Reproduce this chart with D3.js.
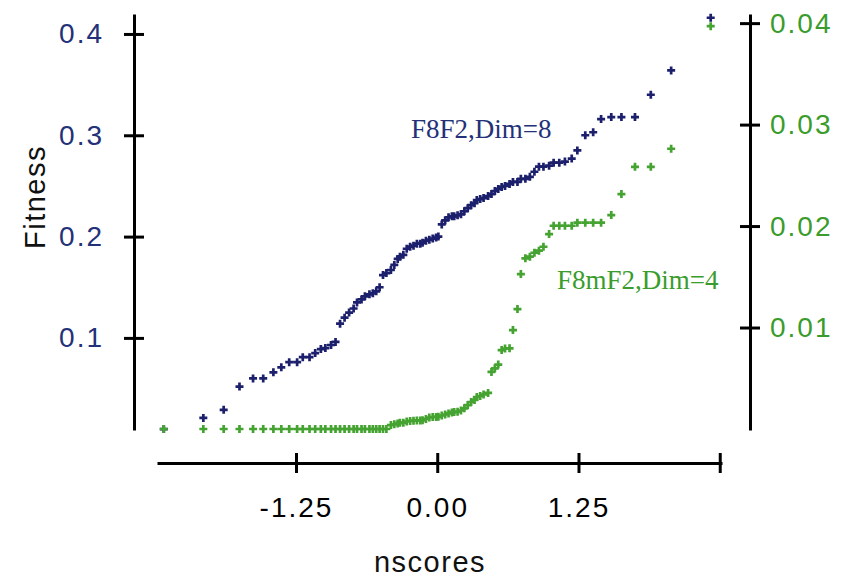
<!DOCTYPE html>
<html>
<head>
<meta charset="utf-8">
<script src="https://cdn.jsdelivr.net/npm/d3@7"></script>
<style>
  body { margin: 0; background: #fff; }
  svg { display: block; }
  .tick text { font-family: "Liberation Sans", Arial, sans-serif; }
</style>
</head>
<body>
<div id="chart"></div>
<script>
// normal scores (shared by both series)
const nscores = [
  -2.42, -2.07, -1.89, -1.75, -1.63, -1.54, -1.45, -1.38, -1.31, -1.24,
  -1.19, -1.13, -1.08, -1.03, -0.99, -0.94, -0.90, -0.86, -0.82, -0.78,
  -0.74, -0.71, -0.67, -0.64, -0.60, -0.57, -0.54, -0.51, -0.48, -0.45,
  -0.41, -0.38, -0.35, -0.33, -0.30, -0.27, -0.24, -0.21, -0.18, -0.15,
  -0.13, -0.10, -0.07, -0.04, -0.01, 0.01, 0.04, 0.07, 0.10, 0.13,
  0.15, 0.18, 0.21, 0.24, 0.27, 0.30, 0.33, 0.35, 0.38, 0.41,
  0.45, 0.48, 0.51, 0.54, 0.57, 0.60, 0.64, 0.67, 0.71, 0.74,
  0.78, 0.82, 0.86, 0.90, 0.94, 0.99, 1.03, 1.08, 1.13, 1.19,
  1.24, 1.31, 1.38, 1.45, 1.54, 1.63, 1.75, 1.89, 2.07, 2.42
]

// F8F2, Dim=8 (left axis)
const fitnessF8F2 = [
  0.010, 0.021, 0.029, 0.052, 0.060, 0.060, 0.066, 0.071, 0.076, 0.076,
  0.081, 0.081, 0.085, 0.089, 0.090, 0.093, 0.096, 0.114, 0.120, 0.125,
  0.129, 0.135, 0.138, 0.141, 0.143, 0.144, 0.146, 0.150, 0.162, 0.164,
  0.167, 0.172, 0.178, 0.180, 0.182, 0.188, 0.190, 0.191, 0.193, 0.193,
  0.194, 0.196, 0.197, 0.198, 0.199, 0.200, 0.212, 0.216, 0.219, 0.220,
  0.220, 0.221, 0.222, 0.225, 0.228, 0.231, 0.233, 0.236, 0.237, 0.238,
  0.240, 0.242, 0.245, 0.247, 0.249, 0.250, 0.252, 0.254, 0.254, 0.257,
  0.257, 0.259, 0.264, 0.269, 0.269, 0.270, 0.273, 0.273, 0.274, 0.277,
  0.285, 0.300, 0.303, 0.316, 0.318, 0.318, 0.318, 0.340, 0.364, 0.416
]

// F8mF2, Dim=4 (right axis)
const fitnessF8mF2 = [
  0, 0, 0, 0, 0, 0, 0, 0, 0, 0,
  0, 0, 0, 0, 0, 0, 0, 0, 0, 0,
  0, 0, 0, 0, 0, 0, 0, 0, 0, 0,
  0.00039, 0.00046, 0.00054, 0.00062, 0.00062, 0.00074, 0.00079, 0.00082, 0.00084, 0.00084,
  0.00086, 0.00099, 0.00113, 0.00118, 0.00118, 0.00121, 0.00133, 0.00143, 0.00153, 0.00163,
  0.00168, 0.00170, 0.00182, 0.00204, 0.00236, 0.00266, 0.00286, 0.00315, 0.00325, 0.00340,
  0.00355, 0.00562, 0.00598, 0.00635, 0.00778, 0.00793, 0.00795, 0.00975, 0.01182, 0.01527,
  0.01682, 0.01698, 0.01737, 0.01757, 0.01796, 0.01921, 0.02003, 0.02003, 0.02003, 0.02003,
  0.02033, 0.02033, 0.02033, 0.02033, 0.02108, 0.02315, 0.02584, 0.02584, 0.02762, 0.03970
]

const xTicks = [-1.25, 0, 1.25, 2.5]
const leftTicks = [0.1, 0.2, 0.3, 0.4]
const rightTicks = [0.01, 0.02, 0.03, 0.04]

const navy = '#1c206c'
const navyText = '#243178'
const green = '#45a332'
const greenText = '#3a9c2c'
const sans = '"Liberation Sans", Arial, sans-serif'

const width = 846, height = 577

const svg = d3.select('#chart')
  .append('svg')
  .attr('width', width)
  .attr('height', height)

const x = d3.scaleLinear().domain([-2.48, 2.52]).range([157, 722])
const yL = d3.scaleLinear().domain([0.0091, 0.4197]).range([430, 14])
const yR = d3.scaleLinear().domain([-0.0001, 0.0409]).range([430, 14])

// axes (plain hyphen for negatives, like the original)
const xAxis = svg.append('g')
  .attr('transform', 'translate(0,463)')
  .call(d3.axisBottom(x)
    .tickValues(xTicks)
    .tickSizeOuter(0)
    .tickSizeInner(10)
    .tickPadding(24)
    .tickFormat(d => d === 2.5 ? '' : d.toFixed(2)))

xAxis.selectAll('.tick line').attr('y1', -10)

const leftAxis = svg.append('g')
  .attr('transform', 'translate(134,0)')
  .call(d3.axisLeft(yL)
    .tickValues(leftTicks)
    .tickSizeOuter(0)
    .tickSizeInner(10)
    .tickPadding(20)
    .tickFormat(d => d.toFixed(1)))

leftAxis.selectAll('.tick line').attr('x1', 10)
leftAxis.selectAll('.tick text').attr('fill', navyText)

const rightAxis = svg.append('g')
  .attr('transform', 'translate(750,0)')
  .call(d3.axisRight(yR)
    .tickValues(rightTicks)
    .tickSizeOuter(0)
    .tickSizeInner(10)
    .tickPadding(10)
    .tickFormat(d => d.toFixed(2)))

rightAxis.selectAll('.tick line').attr('x1', -10)
rightAxis.selectAll('.tick text').attr('fill', greenText)

svg.selectAll('.domain').attr('stroke', '#000').attr('stroke-width', 3)
svg.selectAll('.tick line').attr('stroke', '#000').attr('stroke-width', 3)
svg.selectAll('.tick text')
  .attr('font-size', 28)
  .attr('letter-spacing', 2)

// axis titles
svg.append('text')
  .attr('x', 430)
  .attr('y', 572)
  .attr('text-anchor', 'middle')
  .attr('font-family', sans)
  .attr('font-size', 29)
  .attr('letter-spacing', 1.5)
  .attr('fill', '#111')
  .text('nscores')

svg.append('text')
  .attr('transform', 'translate(45,197) rotate(-90)')
  .attr('text-anchor', 'middle')
  .attr('font-family', sans)
  .attr('font-size', 29)
  .attr('letter-spacing', 1.5)
  .attr('fill', '#111')
  .text('Fitness')

// points
const plus = 'M-4,0H4M0,-4V4'

svg.append('g')
  .selectAll('path')
  .data(nscores)
  .enter().append('path')
  .attr('d', plus)
  .attr('transform', (d, i) => `translate(${x(d)},${yL(fitnessF8F2[i])})`)
  .attr('stroke', navy)
  .attr('stroke-width', 2.7)

svg.append('g')
  .selectAll('path')
  .data(nscores)
  .enter().append('path')
  .attr('d', plus)
  .attr('transform', (d, i) => `translate(${x(d)},${yR(fitnessF8mF2[i])})`)
  .attr('stroke', green)
  .attr('stroke-width', 2.7)

// series labels
svg.append('text')
  .attr('x', 411)
  .attr('y', 138)
  .attr('font-family', '"Liberation Serif", "Times New Roman", serif')
  .attr('font-size', 27)
  .attr('fill', navyText)
  .text('F8F2,Dim=8')

svg.append('text')
  .attr('x', 557)
  .attr('y', 289)
  .attr('font-family', '"Liberation Serif", "Times New Roman", serif')
  .attr('font-size', 27)
  .attr('fill', greenText)
  .text('F8mF2,Dim=4')
</script>
</body>
</html>
